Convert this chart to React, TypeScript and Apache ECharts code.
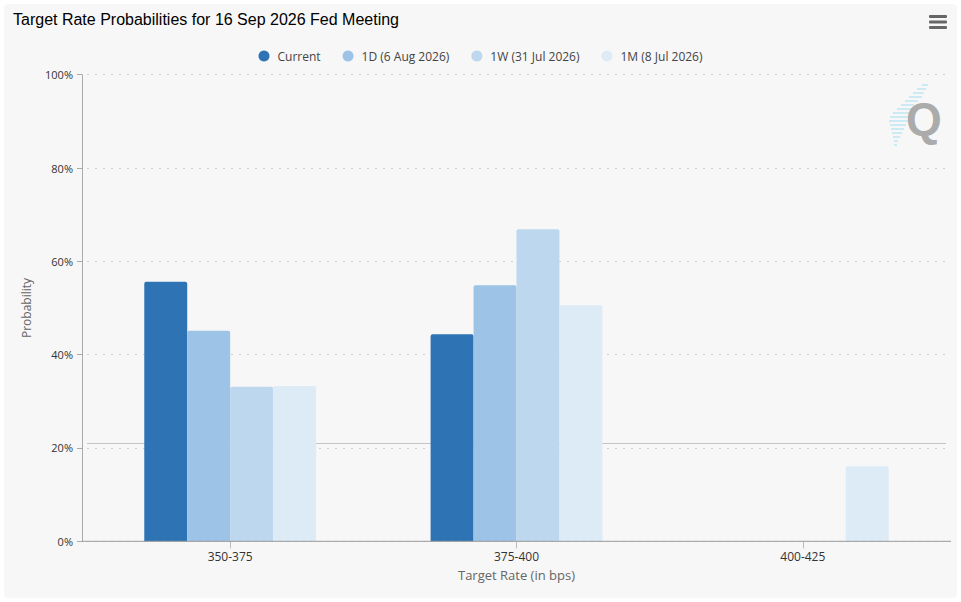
import React, { useEffect, useRef } from "react";
import * as echarts from "echarts";

const categories = ["350-375", "375-400", "400-425"];
const seriesNames = ["Current", "1D (6 Aug 2026)", "1W (31 Jul 2026)", "1M (8 Jul 2026)"];
const currentValues = [55.6, 44.4, 0];
const oneDayValues = [45.1, 54.9, 0];
const oneWeekValues = [33.1, 66.9, 0];
const oneMonthValues = [33.3, 50.6, 16.1];
const seriesColors = ["#2e74b5", "#9dc3e6", "#bdd7ee", "#ddebf7"];
const yMin = 0;
const yMax = 100;
const yInterval = 20;
const referenceLine = 21;

const titleText = "Target Rate Probabilities for 16 Sep 2026 Fed Meeting";

const logoLines: [number, number, number][] = [
  [85, 922, 928], [89, 917, 926], [93, 913, 924], [97, 909, 922],
  [101, 905, 918], [105, 901, 914], [109, 897, 912], [113, 893, 910],
  [117, 890, 910], [121, 889, 908], [125, 890, 906], [129, 891, 904],
  [133, 892, 902], [137, 893, 900], [141, 894, 898], [145, 894, 897],
];

export default function App() {
  const ref = useRef<HTMLDivElement>(null);
  useEffect(() => {
    if (!ref.current) return;
    const chart = echarts.init(ref.current, null, { renderer: "svg" });
    const values = [currentValues, oneDayValues, oneWeekValues, oneMonthValues];
    const H = 602;
    const gridLeft = 87, gridRight = 15, gridTop = 74.7, gridBottom = 60.7;
    const axisY = H - gridBottom;

    const graphics: any[] = [
      {
        type: "rect", z: -10, silent: true,
        shape: { x: 4, y: 4, width: 953, height: 594, r: 4 },
        style: { fill: "#f7f7f7" },
      },
      {
        type: "text", left: 13, top: 11,
        style: { text: titleText, fontFamily: "Liberation Sans, Arial, sans-serif", fontSize: 16, fill: "#000" },
      },
      ...[16.5, 22, 27.5].map((y) => ({
        type: "rect", shape: { x: 929, y: y - 1.5, width: 18, height: 3, r: 1 }, style: { fill: "#666" },
      })),
      {
        type: "line", z: 5, silent: true,
        shape: { x1: 82, y1: axisY, x2: 951, y2: axisY },
        style: { stroke: "#999", lineWidth: 1 },
      },
      ...logoLines.map(([y, x1, x2]) => ({
        type: "line", silent: true, z: 1,
        shape: { x1, y1: y, x2, y2: y },
        style: { stroke: "#b5e3ef", lineWidth: 1.5, opacity: 0.9 },
      })),
      {
        type: "text", x: 906, y: 96, z: 2, silent: true,
        style: { text: "Q", fontFamily: "Liberation Sans, Arial, sans-serif", fontWeight: "bold", fontSize: 46, fill: "#ababab" },
      },
    ];

    const series: any[] = seriesNames.map((name, i) => ({
      name,
      type: "bar",
      data: values[i],
      barGap: "0%",
      barCategoryGap: "40%",
      z: 3,
      itemStyle: { color: seriesColors[i], borderRadius: [2, 2, 0, 0] },
      emphasis: { disabled: true },
    }));
    series.push({
      name: "ref",
      type: "line",
      data: [],
      z: 1,
      silent: true,
      markLine: {
        silent: true,
        z: 1,
        symbol: "none",
        label: { show: false },
        lineStyle: { type: "solid", color: "#c4c4c4", width: 1 },
        data: [{ yAxis: referenceLine }],
      },
    });

    chart.setOption({
      animation: false,
      backgroundColor: "#ffffff",
      textStyle: { fontFamily: "Open Sans, sans-serif" },
      graphic: graphics,
      legend: {
        data: seriesNames,
        top: 45,
        left: "center",
        icon: "circle",
        itemWidth: 11,
        itemHeight: 11,
        itemGap: 22,
        textStyle: { fontSize: 12, color: "#444", fontFamily: "Open Sans, sans-serif", padding: [0, 0, 0, 3] },
      },
      grid: { left: gridLeft, right: gridRight, top: gridTop, bottom: gridBottom, containLabel: false },
      xAxis: {
        type: "category",
        data: categories,
        axisLine: { show: false },
        axisTick: { show: true, alignWithLabel: true, length: 7, lineStyle: { color: "#bbb" } },
        axisLabel: { fontSize: 12, color: "#333", margin: 9, fontFamily: "Open Sans, sans-serif" },
        name: "Target Rate (in bps)",
        nameLocation: "middle",
        nameGap: 27,
        nameTextStyle: { fontSize: 13, color: "#666", fontFamily: "Open Sans, sans-serif" },
      },
      yAxis: {
        type: "value",
        min: yMin,
        max: yMax,
        interval: yInterval,
        offset: 5,
        axisLine: { show: true, lineStyle: { color: "#aaa" } },
        axisTick: { show: true, length: 5, lineStyle: { color: "#aaa" } },
        axisLabel: { formatter: "{value}%", fontSize: 11, color: "#333", margin: 9, fontFamily: "Open Sans, sans-serif" },
        splitLine: { show: true, lineStyle: { type: [2, 6], color: "#cfcfcf", width: 1 } },
        name: "Probability",
        nameLocation: "middle",
        nameGap: 50,
        nameTextStyle: { fontSize: 12, color: "#666", fontFamily: "Open Sans, sans-serif" },
      },
      series,
    });
    return () => chart.dispose();
  }, []);
  return (
    <div
      ref={ref}
      style={{ position: "absolute", left: 0, top: 0, width: 961, height: 602 }}
    />
  );
}
